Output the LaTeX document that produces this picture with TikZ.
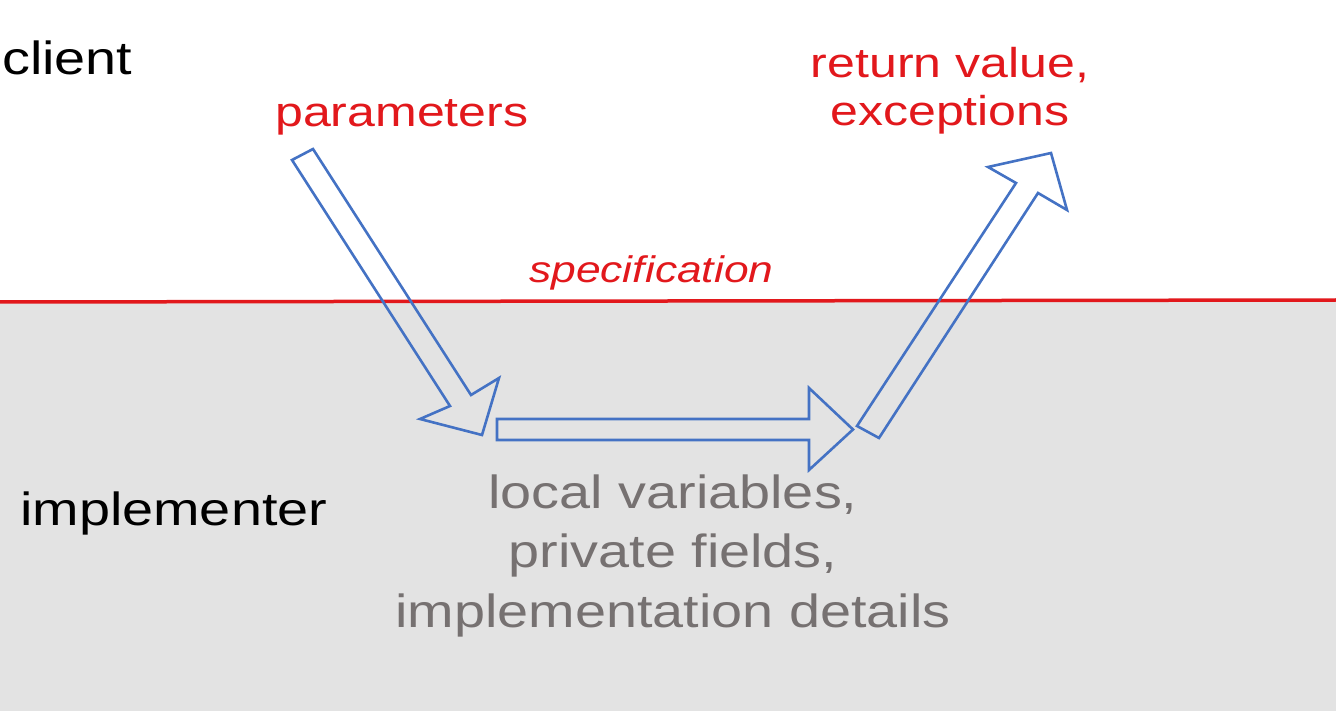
\documentclass[tikz,border=0pt]{standalone}
\usepackage{fontspec}
\setmainfont{Liberation Sans}
\definecolor{specred}{RGB}{226,24,28}
\definecolor{arrowblue}{RGB}{68,114,196}
\definecolor{implgray}{RGB}{227,227,227}
\definecolor{textgray}{RGB}{118,113,113}
\newcommand{\sx}[1]{\scalebox{1.2}[1]{#1}}
\tikzset{
  rolelabel/.style={inner sep=0pt, anchor=base west, text=black, font=\fontsize{46.5}{55}\selectfont},
  flowlabel/.style={inner sep=0pt, text=specred, font=\fontsize{41.7}{48}\selectfont},
  speclabel/.style={inner sep=0pt, anchor=base west, text=specred, font=\fontsize{37}{44}\selectfont\itshape},
  detaillabel/.style={inner sep=0pt, text=textgray, font=\fontsize{46.5}{59.5}\selectfont},
  blockarrow/.style={draw=arrowblue, line width=2.6pt, line join=miter},
  specline/.style={draw=specred, line width=3.5pt},
}
\begin{document}
\begin{tikzpicture}[x=1pt,y=-1pt]
\useasboundingbox (0,0) rectangle (1336,711);
\fill[white] (0,0) rectangle (1336,711);
\fill[implgray] (0,301) rectangle (1336,711);
\coordinate (lineL) at (0,302);
\coordinate (lineR) at (1336,300);
\draw[specline] (lineL) -- (lineR);

% labels
\node[rolelabel] (client) at (2,75) {\sx{client}};
\node[rolelabel] (impl) at (20,525) {\sx{implementer}};
\node[flowlabel, anchor=base west] (params) at (275,127) {\sx{parameters}};
\node[flowlabel, anchor=base, align=center] (ret) at (950,126) {\sx{return value,}\\\sx{exceptions}};
\node[speclabel] (spec) at (529,283) {\sx{specification}};
\node[detaillabel, anchor=base, align=center] (details) at (673,627)
  {\sx{local variables,}\\\sx{private fields,}\\\sx{implementation details}};

% block arrows
\draw[blockarrow] (292,160) -- (313,149) -- (471,395) -- (499,378) -- (482,435) -- (420,419) -- (450,406) -- cycle;
\draw[blockarrow] (497,419) -- (809,419) -- (809,388) -- (853,429.5) -- (809,470) -- (809,440) -- (497,440) -- cycle;
\draw[blockarrow] (857,426) -- (1016,183) -- (988,167) -- (1051,153) -- (1067,210) -- (1038,193) -- (879,438) -- cycle;
\end{tikzpicture}
\end{document}
